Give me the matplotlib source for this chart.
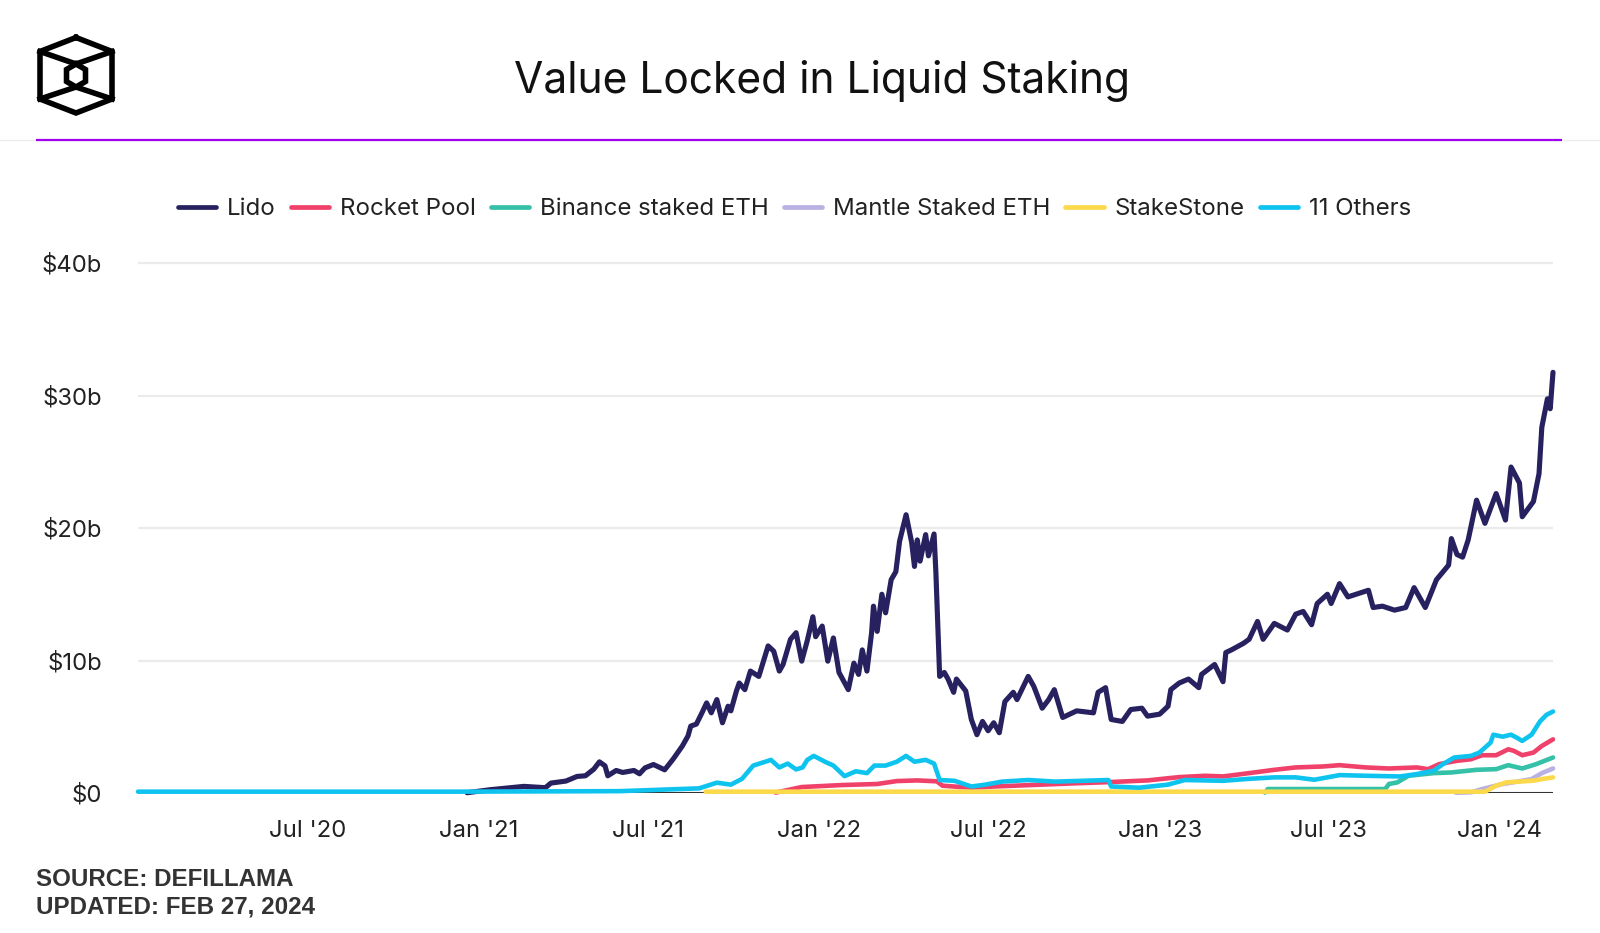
import matplotlib
matplotlib.use("Agg")
import matplotlib.pyplot as plt
import pandas as pd

plt.rcParams['font.family'] = ['Inter', 'DejaVu Sans']

TITLE = "Value Locked in Liquid Staking"
SOURCE_LINES = ["SOURCE: DEFILLAMA", "UPDATED: FEB 27, 2024"]
SERIES_NAMES = ["Lido", "Rocket Pool", "Binance staked ETH",
                "Mantle Staked ETH", "StakeStone", "11 Others"]
COLORS = ["#27215f", "#f0416a", "#35c0a8", "#b9b1e4", "#fbd94b", "#0fc3ef"]

X_START, X_END = "2020-01-01", "2024-02-27"
X_TICKS = ["2020-07-01", "2021-01-01", "2021-07-01", "2022-01-01",
           "2022-07-01", "2023-01-01", "2023-07-01", "2024-01-01"]
X_TICK_LABELS = ["Jul '20", "Jan '21", "Jul '21", "Jan '22",
                 "Jul '22", "Jan '23", "Jul '23", "Jan '24"]
Y_TICKS = [0, 10, 20, 30, 40]
Y_TICK_LABELS = ["$0", "$10b", "$20b", "$30b", "$40b"]

# values in $ billions
lido_dates = [
    "2020-12-19", "2021-01-13", "2021-02-18", "2021-03-13", "2021-03-19", "2021-04-04",
    "2021-04-16", "2021-04-25", "2021-05-04", "2021-05-10", "2021-05-16", "2021-05-19",
    "2021-05-28", "2021-06-04", "2021-06-16", "2021-06-22", "2021-06-28", "2021-07-07",
    "2021-07-19", "2021-07-28", "2021-08-07", "2021-08-13", "2021-08-16", "2021-08-22",
    "2021-08-28", "2021-09-02", "2021-09-07", "2021-09-13", "2021-09-19", "2021-09-25",
    "2021-09-28", "2021-10-04", "2021-10-07", "2021-10-13", "2021-10-19", "2021-10-28",
    "2021-11-02", "2021-11-07", "2021-11-13", "2021-11-19", "2021-11-23", "2021-12-01",
    "2021-12-07", "2021-12-13", "2021-12-19", "2021-12-25", "2021-12-28", "2022-01-04",
    "2022-01-10", "2022-01-16", "2022-01-22", "2022-02-01", "2022-02-07", "2022-02-12",
    "2022-02-16", "2022-02-21", "2022-02-26", "2022-02-28", "2022-03-04", "2022-03-09",
    "2022-03-13", "2022-03-19", "2022-03-24", "2022-03-28", "2022-04-04", "2022-04-10",
    "2022-04-13", "2022-04-16", "2022-04-19", "2022-04-25", "2022-04-28", "2022-05-04",
    "2022-05-06", "2022-05-10", "2022-05-15", "2022-05-19", "2022-05-25", "2022-05-28",
    "2022-06-07", "2022-06-13", "2022-06-19", "2022-06-25", "2022-07-01", "2022-07-07",
    "2022-07-13", "2022-07-19", "2022-07-28", "2022-08-01", "2022-08-13", "2022-08-19",
    "2022-08-28", "2022-09-04", "2022-09-10", "2022-09-19", "2022-10-04", "2022-10-22",
    "2022-10-27", "2022-11-04", "2022-11-10", "2022-11-22", "2022-12-01", "2022-12-13",
    "2022-12-19", "2023-01-01", "2023-01-10", "2023-01-13", "2023-01-22", "2023-02-01",
    "2023-02-12", "2023-02-15", "2023-03-01", "2023-03-10", "2023-03-13", "2023-03-19",
    "2023-04-01", "2023-04-07", "2023-04-16", "2023-04-22", "2023-05-04", "2023-05-18",
    "2023-05-27", "2023-06-04", "2023-06-13", "2023-06-19", "2023-06-30", "2023-07-04",
    "2023-07-13", "2023-07-22", "2023-08-13", "2023-08-18", "2023-08-28", "2023-09-10",
    "2023-09-22", "2023-10-01", "2023-10-13", "2023-10-25", "2023-11-07", "2023-11-10",
    "2023-11-16", "2023-11-22", "2023-11-28", "2023-12-07", "2023-12-16", "2023-12-28",
    "2024-01-07", "2024-01-13", "2024-01-22", "2024-01-25", "2024-02-06", "2024-02-12",
    "2024-02-15", "2024-02-21", "2024-02-24", "2024-02-27",
]
lido_values = [
    0.02, 0.25, 0.5, 0.4, 0.75, 0.9,
    1.25, 1.3, 1.8, 2.35, 2.05, 1.3,
    1.7, 1.55, 1.7, 1.45, 1.9, 2.15,
    1.75, 2.55, 3.55, 4.3, 5.05, 5.2,
    6.05, 6.8, 6.05, 7.05, 5.3, 6.55,
    6.2, 7.7, 8.3, 7.8, 9.2, 8.8,
    9.95, 11.1, 10.7, 9.2, 9.7, 11.6,
    12.1, 9.95, 11.5, 13.3, 11.8, 12.6,
    9.95, 11.7, 9.1, 7.8, 9.8, 8.95,
    10.8, 9.2, 12.1, 14.1, 12.2, 15.0,
    13.6, 16.1, 16.7, 19.0, 21.0, 18.9,
    17.1, 19.1, 17.5, 19.5, 17.9, 19.55,
    16.6, 8.8, 9.1, 8.6, 7.6, 8.6,
    7.7, 5.55, 4.4, 5.4, 4.7, 5.3,
    4.55, 6.9, 7.6, 7.05, 8.8, 8.05,
    6.4, 7.05, 7.8, 5.7, 6.2, 6.05,
    7.6, 7.95, 5.55, 5.4, 6.3, 6.4,
    5.8, 5.95, 6.55, 7.8, 8.3, 8.6,
    7.95, 8.95, 9.7, 8.4, 10.6, 10.8,
    11.3, 11.6, 12.95, 11.6, 12.8, 12.3,
    13.5, 13.7, 12.7, 14.3, 15.0, 14.3,
    15.8, 14.8, 15.3, 14.0, 14.1, 13.8,
    14.0, 15.5, 14.0, 16.1, 17.2, 19.2,
    18.0, 17.8, 19.1, 22.1, 20.35, 22.6,
    20.6, 24.6, 23.4, 20.85, 22.0, 24.1,
    27.6, 29.75, 29.0, 31.75,
]

rocket_dates = [
    "2021-11-15", "2021-12-13", "2022-01-25", "2022-03-04", "2022-03-25", "2022-04-16",
    "2022-05-07", "2022-05-13", "2022-06-13", "2022-07-07", "2022-08-16", "2022-09-28",
    "2022-11-07", "2022-12-19", "2023-01-22", "2023-02-19", "2023-03-10", "2023-04-07",
    "2023-05-04", "2023-05-27", "2023-06-25", "2023-07-13", "2023-08-10", "2023-09-04",
    "2023-10-04", "2023-10-16", "2023-10-28", "2023-11-16", "2023-12-01", "2023-12-13",
    "2023-12-28", "2024-01-10", "2024-01-16", "2024-01-25", "2024-02-06", "2024-02-15",
    "2024-02-27",
]
rocket_values = [
    0.03, 0.45, 0.6, 0.68, 0.9, 0.95,
    0.88, 0.55, 0.4, 0.49, 0.6, 0.72,
    0.82, 0.95, 1.2, 1.3, 1.25, 1.5,
    1.75, 1.93, 2.0, 2.1, 1.93, 1.85,
    1.93, 1.8, 2.18, 2.43, 2.55, 2.85,
    2.85, 3.3, 3.18, 2.85, 3.05, 3.55,
    4.05,
]

binance_dates = [
    "2023-04-24", "2023-04-27", "2023-08-31", "2023-09-04", "2023-09-13", "2023-09-25",
    "2023-10-22", "2023-11-10", "2023-12-07", "2023-12-28", "2024-01-10", "2024-01-25",
    "2024-02-09", "2024-02-27",
]
binance_values = [
    0.03, 0.3, 0.3, 0.68, 0.8, 1.3,
    1.5, 1.55, 1.75, 1.8, 2.1, 1.85,
    2.18, 2.68,
]

mantle_dates = ["2023-11-15", "2023-12-01", "2023-12-13", "2024-01-04", "2024-01-19",
                "2024-02-04", "2024-02-15", "2024-02-27"]
mantle_values = [0.02, 0.05, 0.3, 0.68, 0.85, 1.05, 1.5, 1.85]

stakestone_dates = ["2021-09-01", "2023-12-16", "2023-12-28", "2024-01-08", "2024-01-19",
                    "2024-02-06", "2024-02-15", "2024-02-27"]
stakestone_values = [0.1, 0.1, 0.55, 0.8, 0.85, 0.93, 1.05, 1.18]

others_dates = [
    "2020-01-01", "2020-12-01", "2021-06-01", "2021-08-25", "2021-09-13", "2021-09-28",
    "2021-10-10", "2021-10-22", "2021-11-04", "2021-11-10", "2021-11-19", "2021-11-28",
    "2021-12-07", "2021-12-14", "2021-12-19", "2021-12-26", "2022-01-07", "2022-01-16",
    "2022-01-28", "2022-02-09", "2022-02-21", "2022-03-01", "2022-03-13", "2022-03-25",
    "2022-04-04", "2022-04-13", "2022-04-25", "2022-05-04", "2022-05-10", "2022-05-26",
    "2022-06-13", "2022-06-28", "2022-07-16", "2022-08-13", "2022-09-11", "2022-10-10",
    "2022-11-07", "2022-11-10", "2022-12-10", "2023-01-10", "2023-01-28", "2023-03-10",
    "2023-04-07", "2023-05-04", "2023-05-27", "2023-06-16", "2023-07-13", "2023-08-10",
    "2023-09-16", "2023-10-04", "2023-10-22", "2023-11-01", "2023-11-13", "2023-12-01",
    "2023-12-10", "2023-12-22", "2023-12-25", "2024-01-04", "2024-01-13", "2024-01-19",
    "2024-01-25", "2024-02-04", "2024-02-13", "2024-02-20", "2024-02-27",
]
others_values = [
    0.1, 0.1, 0.14, 0.35, 0.78, 0.63,
    1.07, 2.07, 2.36, 2.5, 1.93, 2.22,
    1.78, 1.93, 2.5, 2.8, 2.36, 2.07,
    1.27, 1.64, 1.5, 2.07, 2.07, 2.36,
    2.8, 2.36, 2.5, 2.22, 0.98, 0.92,
    0.49, 0.63, 0.86, 0.98, 0.86, 0.92,
    0.98, 0.49, 0.4, 0.63, 0.98, 0.92,
    1.07, 1.18, 1.18, 1.0, 1.35, 1.3,
    1.25, 1.43, 1.68, 2.18, 2.68, 2.8,
    3.05, 3.8, 4.4, 4.25, 4.4, 4.18,
    3.93, 4.4, 5.4, 5.9, 6.15,
]

series = [
    (lido_dates, lido_values),
    (rocket_dates, rocket_values),
    (binance_dates, binance_values),
    (mantle_dates, mantle_values),
    (stakestone_dates, stakestone_values),
    (others_dates, others_values),
]
LINE_WIDTHS = [3.7, 3.3, 3.3, 3.3, 3.3, 3.3]

W, H = 1600, 933
fig = plt.figure(figsize=(W / 100, H / 100), dpi=100)
fig.patch.set_facecolor("white")

# --- main axes (pixel geometry) ---
left_px, right_px = 138, 1553
bottom_px = 793
px_per_unit = (793 - 263) / 40.0
ymax = 42
top_px = bottom_px - ymax * px_per_unit
ax = fig.add_axes([left_px / W, (H - bottom_px) / H,
                   (right_px - left_px) / W, (bottom_px - top_px) / H])
ax.set_xlim(pd.Timestamp(X_START), pd.Timestamp(X_END))
ax.set_ylim(0, ymax)
for s in ax.spines.values():
    s.set_visible(False)
ax.set_yticks(Y_TICKS)
ax.set_yticklabels(Y_TICK_LABELS)
ax.set_xticks(pd.to_datetime(X_TICKS))
ax.set_xticklabels(X_TICK_LABELS)
ax.tick_params(axis="both", length=0, labelsize=17.2, colors="#222222")
ax.tick_params(axis="y", pad=26)
ax.tick_params(axis="x", pad=19.5)
for t in ax.get_xticklabels() + ax.get_yticklabels():
    t.set_color("#222222")
ax.yaxis.grid(True, color="#ebebeb", lw=1.6, zorder=0)
ax.set_axisbelow(True)
ax.axhline(0, color="#333333", lw=2.2, zorder=1.5)

handles = []
for i, ((d, v), name, c, lw) in enumerate(zip(series, SERIES_NAMES, COLORS, LINE_WIDTHS)):
    ln, = ax.plot(pd.to_datetime(d), v, color=c, lw=lw, label=name,
                  solid_joinstyle="round", solid_capstyle="round",
                  clip_on=False, zorder=2 + i * 0.1)
    handles.append(ln)

leg = fig.legend(handles=handles, labels=SERIES_NAMES, ncol=6, frameon=False,
                 loc="center left", bbox_to_anchor=(178 / W, 1 - 209 / H),
                 fontsize=17.3, handlelength=1.6, handletextpad=0.45,
                 columnspacing=0.62, borderpad=0, borderaxespad=0)
for t in leg.get_texts():
    t.set_color("#222222")
for lh in leg.legend_handles:
    lh.set_linewidth(3.4)
    lh.set_solid_capstyle("round")

# --- overlay for header decorations ---
ov = fig.add_axes([0, 0, 1, 1], zorder=-1)
ov.set_xlim(0, W)
ov.set_ylim(H, 0)
ov.axis("off")
ov.plot([0, W], [140, 140], color="#ececec", lw=1.0)
ov.plot([36, 1562], [140, 140], color="#a100f0", lw=1.6, solid_capstyle="butt")

# logo (hexagonal cube)
LOGO_LW = 4.0
outer = [(76, 37.5), (112, 51.5), (112, 99), (76, 113), (40, 99), (40, 51.5), (76, 37.5)]
ov.plot([p[0] for p in outer], [p[1] for p in outer], color="black", lw=LOGO_LW,
        solid_joinstyle="miter")
inner = [(76, 64), (85.5, 69.5), (85.5, 81.5), (76, 87), (66.5, 81.5), (66.5, 69.5), (76, 64)]
ov.plot([p[0] for p in inner], [p[1] for p in inner], color="black", lw=LOGO_LW,
        solid_joinstyle="miter")
ov.plot([40, 76, 112], [51.5, 64, 51.5], color="black", lw=LOGO_LW)
ov.plot([40, 76, 112], [99, 87, 99], color="black", lw=LOGO_LW)

fig.text(821.5 / W, 1 - 81.5 / H, TITLE, ha="center", va="center",
         fontsize=30.6, color="#111111")

fig.text(36 / W, 1 - 880 / H, SOURCE_LINES[0], ha="left", va="center",
         fontsize=17.4, fontweight="bold", family=["Liberation Sans", "DejaVu Sans"],
         color="#333333")
fig.text(36 / W, 1 - 907 / H, SOURCE_LINES[1], ha="left", va="center",
         fontsize=17.4, fontweight="bold", family=["Liberation Sans", "DejaVu Sans"],
         color="#333333")

fig.savefig("out.png", dpi=100, facecolor="white")
